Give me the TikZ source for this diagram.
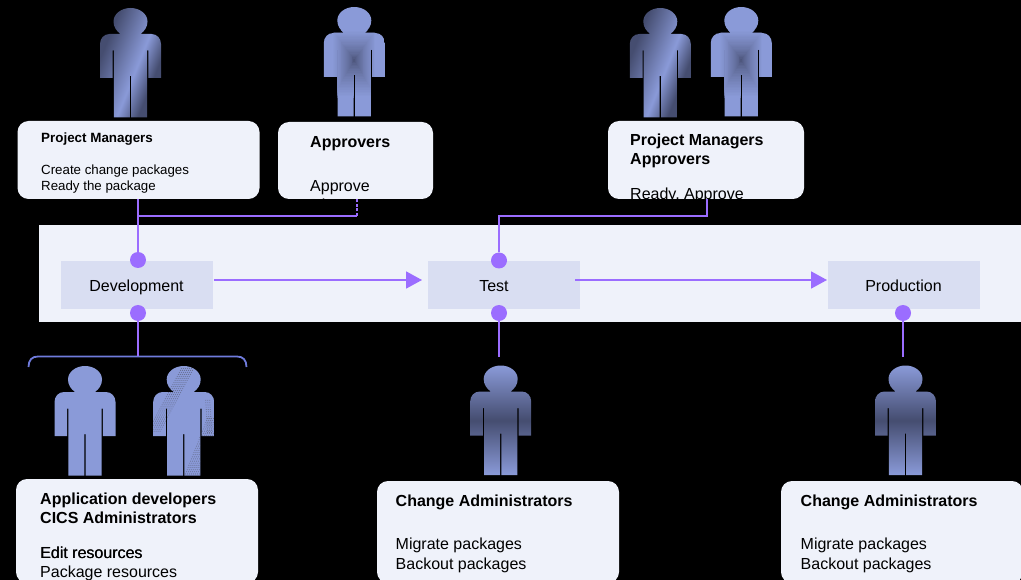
\documentclass[tikz,border=0pt]{standalone}
\usepackage{fontspec}
\setmainfont{Liberation Sans}
\usetikzlibrary{arrows.meta,calc}
\definecolor{cardfill}{HTML}{EFF2FA}
\definecolor{stagefill}{HTML}{D9DEF2}
\definecolor{violet}{HTML}{9B6DFF}
\definecolor{bracecol}{HTML}{6F7BDC}
\definecolor{plight}{HTML}{8A9AD8}
\definecolor{pdark}{HTML}{454D70}
\pgfdeclareverticalshading{pmshade}{100bp}{color(0bp)=(pdark);color(32bp)=(pdark);color(45bp)=(plight);color(70bp)=(pdark);color(100bp)=(pdark)}
\newcommand{\personoutline}{(-10,26) .. controls (-14,23) and (-17,19) .. (-17,13.5)
  .. controls (-17,6) and (-9.4,0) .. (0,0)
  .. controls (9.4,0) and (17,6) .. (17,13.5)
  .. controls (17,19) and (14,23) .. (10,26)
  -- (21,26) .. controls (26.5,26) and (30.5,30.5) .. (30.5,36)
  -- (30.5,70) -- (17.8,70) -- (17.8,42.5) -- (16.6,42.5) -- (16.6,109.5)
  -- (0.7,109.5) -- (0.7,68) -- (-0.7,68) -- (-0.7,109.5) -- (-16.6,109.5)
  -- (-16.6,42.5) -- (-17.8,42.5) -- (-17.8,70) -- (-30.5,70) -- (-30.5,36)
  .. controls (-30.5,30.5) and (-26.5,26) .. (-21,26) -- cycle}
\newcommand{\approverperson}[2]{%
  \begin{scope}[shift={(#1,#2)}]
    \clip \personoutline;
    \fill[plight] (-31,0) rectangle (31,110);
    \foreach \i in {0,...,24}{
      \pgfmathsetmacro{\tt}{1-\i/24}
      \pgfmathsetmacro{\mixv}{100*\tt^0.65}
      \fill[plight!\mixv!pdark] ({-22*\tt},{53-30*\tt}) rectangle ({22*\tt},{53+38*\tt});
    }
  \end{scope}}
\tikzset{
  card/.style={fill=cardfill,rounded corners=11pt,inner sep=0pt},
  stagebox/.style={fill=stagefill,inner sep=0pt,minimum width=152pt,minimum height=48pt},
  stagetext/.style={inner sep=0pt,text=black,font=\fontsize{16}{16}\selectfont,text height=12pt,text depth=0pt},
  dot/.style={circle,fill=violet,inner sep=0pt,minimum size=16pt},
  link/.style={draw=violet,line width=1.8pt},
  flow/.style={draw=violet,line width=1.8pt,-{Triangle[length=16pt,width=17pt]}},
  head/.style={anchor=base west,inner sep=0pt,text=black,font=\fontsize{16}{16}\selectfont\bfseries},
  body/.style={anchor=base west,inner sep=0pt,text=black,font=\fontsize{16}{16}\selectfont},
  smallhead/.style={anchor=base west,inner sep=0pt,text=black,font=\fontsize{13.4}{14}\selectfont\bfseries},
  smallbody/.style={anchor=base west,inner sep=0pt,text=black,font=\fontsize{13.3}{14}\selectfont},
  pmperson/.style={shading=pmshade,shading angle=68},
  caperson/.style={top color=plight,bottom color=plight,middle color=pdark},
  hatch/.style={draw=pdark!85,line width=.7pt,dash pattern=on .7pt off 1.6pt},
}
\begin{document}
\begin{tikzpicture}[x=1pt,y=-1pt]
\useasboundingbox (0,0) rectangle (1021,580);
\clip (0,0) rectangle (1021,580);
\fill[black] (0,0) rectangle (1021,580);
% band
\fill[cardfill] (39,225) rectangle (1021,322);
% people
\begin{scope}[shift={(130.5,8)}]\shade[pmperson] \personoutline;\end{scope}
\begin{scope}[shift={(660.3,8)}]\shade[pmperson] \personoutline;\end{scope}
\approverperson{354.3}{7}
\approverperson{741.3}{7}
\begin{scope}[shift={(500.7,365.5)}]\shade[caperson] \personoutline;\end{scope}
\begin{scope}[shift={(905.5,365.5)}]\shade[caperson] \personoutline;\end{scope}
\begin{scope}[shift={(85,366)}]\fill[plight] \personoutline;\end{scope}
\begin{scope}[shift={(183.7,366)}]
  \clip \personoutline;
  \fill[plight] (-31,0) rectangle (31,110);
  \foreach \o in {-7,-5,-3,-1,1,3,5}{
    \draw[hatch] ({5+\o},2) -- ({-29+\o},66);
  }
  \foreach \o in {-3,-1,1,3,5,7,9,11}{
    \draw[hatch] ({27+\o},52) -- ({4+\o},110);
  }
  \foreach \o in {0,2,4}{
    \draw[hatch] ({22+\o},34) -- ({24+\o},68);
  }
\end{scope}
% cards
\node[card,minimum width=242pt,minimum height=78pt] (pm) at (138.5,160) {};
\node[card,minimum width=155pt,minimum height=77pt] (ap) at (355.5,160.5) {};
\node[card,minimum width=196pt,minimum height=78pt] (pa) at (706,160) {};
\node[card,minimum width=242pt,minimum height=104pt] (ad) at (137,531) {};
\node[card,minimum width=242pt,minimum height=102pt] (ca) at (498,532) {};
\node[card,minimum width=242pt,minimum height=102pt] (cb) at (902,532) {};
% stages
\node[stagebox] (dev) at (137,285) {};
\node[stagebox] (tst) at (504,285) {};
\node[stagebox] (prd) at (904,285) {};
\node[stagetext] (devt) at (136.5,285.5) {Development};
\node[stagetext] (tstt) at (494,285.5) {Test};
\node[stagetext] (prdt) at (903.5,285.5) {Production};
% dots
\node[dot] (d1) at (138,260) {};
\node[dot] (d2) at (138,313) {};
\node[dot] (t1) at (499,260.5) {};
\node[dot] (t2) at (499,313) {};
\node[dot] (p2) at (903,313) {};
% anchors for connector free ends
\coordinate (apdrop) at (357,199);
\coordinate (apjoin) at (357,216);
\coordinate (pajoin) at (707,216);
\coordinate (padrop) at (707,199);
\coordinate (brtop) at (138,356);
\coordinate (caend) at (499,357);
\coordinate (cbend) at (903,357);
\coordinate (a1s) at (214,280);
\coordinate (a1e) at (422,280);
\coordinate (a2s) at (575,280);
\coordinate (a2e) at (827,280);
% connectors
\draw[link] (pm.south -| d1) -- (d1);
\draw[link] (d1 |- apjoin) -- (apjoin);
\draw[link,dash pattern=on 3pt off 1.5pt] (apjoin) -- (apdrop);
\draw[link] (t1) |- (pajoin) -- (padrop);
\draw[draw=bracecol,line width=1.8pt] (28.5,367) .. controls (28.5,360) and (32,356.5) .. (38,356.5) -- (237,356.5) .. controls (243,356.5) and (246.5,360) .. (246.5,367);
\draw[link] (d2) -- (brtop);
\draw[link] (t2) -- (caend);
\draw[link] (p2) -- (cbend);
\draw[flow] (a1s) -- (a1e);
\draw[flow] (a2s) -- (a2e);
% card texts
\node[smallhead] (x1) at (41,142.5) {Project Managers};
\node[smallbody] (x2) at (41,174.8) {Create change packages};
\node[smallbody] (x3) at (41,190.3) {Ready the package};
\node[head] (x4) at (310,148) {Approvers};
\node[body] (x5) at (310,191.5) {Approve};
\node[body] (x6) at (310,211) {Di};
\node[head] (x7) at (630,145.5) {Project Managers};
\node[head] (x8) at (630,164.5) {Approvers};
\node[body] (x9) at (630,200) {Ready, Approve};
\node[head] (x10) at (40,504.5) {Application developers};
\node[head] (x11) at (40,523.5) {CICS Administrators};
\node[body] (x12) at (40,558) {Edit resources};
\node[body] (x12b) at (40.3,558) {Edit resources};
\node[body] (x13) at (40,577.5) {Package resources};
\node[head] (x14) at (395.5,506.5) {Change Administrators};
\node[body] (x15) at (395.5,549) {Migrate packages};
\node[body] (x16) at (395.5,569) {Backout packages};
\node[head] (x17) at (800.5,506.5) {Change Administrators};
\node[body] (x18) at (800.5,549) {Migrate packages};
\node[body] (x19) at (800.5,569) {Backout packages};
\end{tikzpicture}
\end{document}
